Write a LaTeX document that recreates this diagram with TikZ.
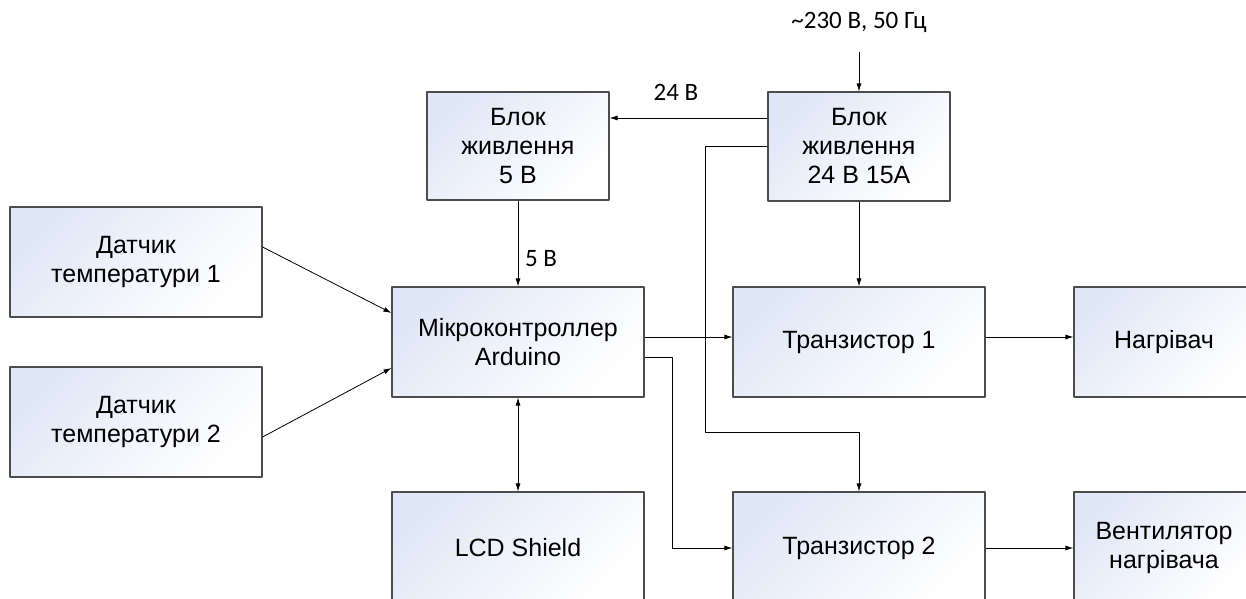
\documentclass[tikz,border=0pt]{standalone}
\usepackage{fontspec}
\setmainfont{Liberation Sans}
\newfontfamily\lblfont{Carlito}
\usetikzlibrary{arrows.meta}
\definecolor{boxblue}{RGB}{224,231,246}
\tikzset{
  box/.style={draw=black!70,line width=1.1pt,top color=boxblue,bottom color=white,
    shading angle=45,align=center,inner sep=0pt,
    font=\fontsize{25}{29}\selectfont},
  lbl/.style={font=\lblfont\fontsize{25}{29}\selectfont,inner sep=2pt},
  arr/.style={-{Latex[length=8pt,width=5pt]},line width=.8pt},
}
\begin{document}
\begin{tikzpicture}[x=1pt,y=-1pt,line join=round]
  \useasboundingbox (0,0) rectangle (1246,598);
  \clip (0,0) rectangle (1246,598);
  % boxes
  \node[box,minimum width=182,minimum height=108] (psu5) at (518,146) {Блок\\живлення\\5 В};
  \node[box,minimum width=182,minimum height=109] (psu24) at (859,146.5) {Блок\\живлення\\24 В 15А};
  \node[box,minimum width=252,minimum height=110] (sens1) at (136,262) {Датчик\\температури 1};
  \node[box,minimum width=252,minimum height=110] (sens2) at (136,422) {Датчик\\температури 2};
  \node[box,minimum width=252,minimum height=110] (mcu) at (518,342) {Мікроконтроллер\\Arduino};
  \node[box,minimum width=252,minimum height=110] (tr1) at (859,342) {Транзистор 1};
  \node[box,minimum width=180,minimum height=110] (heat) at (1164,342) {Нагрівач};
  \node[box,minimum width=252,minimum height=112] (lcd) at (518,548) {LCD Shield};
  \node[box,minimum width=252,minimum height=112] (tr2) at (859,548) {Транзистор 2};
  \node[box,minimum width=180,minimum height=112] (fan) at (1164,548) {Вентилятор\\нагрівача};
  % labels
  \node[lbl] (ac) at (859,22) {\textasciitilde230 В, 50 Гц};
  \node[lbl] (l24) at (676,92) {24 В};
  \node[lbl] (l5) at (541,259) {5 В};
  % connectors
  \draw[arr] ([yshift=-18pt]ac.south) -- (psu24);
  \draw[arr] ([yshift=28.5pt]psu24.west) coordinate (v24) -- (v24 -| psu5.east);
  \draw[arr] (psu24.west) -- ++(-62,0) |- ([yshift=59pt]tr2.north) -- (tr2.north);
  \draw[arr] (psu24) -- (tr1);
  \draw[arr] (psu5) -- (mcu);
  \draw[arr] ([yshift=15pt]sens1.east) -- ([yshift=29pt]mcu.west);
  \draw[arr] ([yshift=-15pt]sens2.east) -- ([yshift=-26pt]mcu.west);
  \draw[arr] ([yshift=5pt]mcu.east) -- ([yshift=5pt]tr1.west);
  \draw[arr] ([yshift=-15pt]mcu.east) -- ++(28,0) |- (tr2.west);
  \draw[{Latex[length=8pt,width=5pt]}-{Latex[length=8pt,width=5pt]},line width=.8pt] (mcu) -- (lcd);
  \draw[arr] ([yshift=5pt]tr1.east) -- ([yshift=5pt]heat.west);
  \draw[arr] (tr2) -- (fan);
\end{tikzpicture}
\end{document}
